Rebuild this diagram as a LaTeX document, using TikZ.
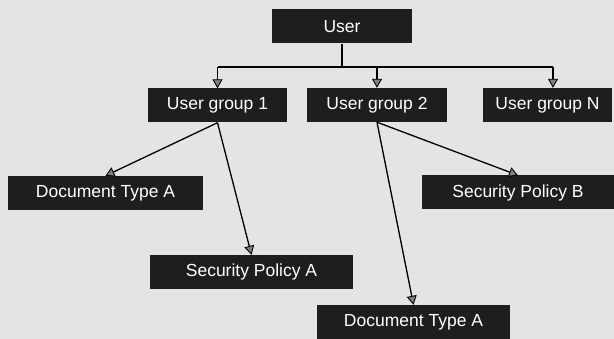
\documentclass[tikz,border=0pt]{standalone}
\usepackage{fontspec}
\setmainfont{Liberation Sans}
\usetikzlibrary{arrows.meta,calc}
\definecolor{bgc}{HTML}{E4E4E4}
\definecolor{boxc}{HTML}{1E1E1E}
\begin{document}
\begin{tikzpicture}[x=1pt,y=-1pt,
  box/.style={fill=boxc,text=white,inner sep=0pt,minimum height=34pt,
    font=\fontsize{17.5}{20}\selectfont,anchor=center},
  conn/.style={draw=black,line width=1.3pt,
    -{Triangle[length=9pt,width=10pt,fill=gray,line width=0.9pt]}},
  trunk/.style={draw=black,line width=1.8pt}]
\fill[bgc] (0,0) rectangle (614,339);
\useasboundingbox (0,0) rectangle (614,339);
\node[box,minimum width=140pt] (user) at (342,26.5) {User};
\node[box,minimum width=139pt] (ug1) at (217.5,105.5) {User group 1};
\node[box,minimum width=140pt] (ug2) at (377,105) {User group 2};
\node[box,minimum width=129pt] (ugn) at (547.5,105) {User group N};
\node[box,minimum width=195pt] (doca) at (105.5,193) {Document Type A};
\node[box,minimum width=203pt] (spa) at (251.5,272) {Security Policy A};
\node[box,minimum width=192pt] (spb) at (518,192.5) {Security Policy B};
\node[box,minimum width=193pt] (docb) at (413.5,322) {Document Type A};
\coordinate (j) at ($(user.south)+(0,23)$);
\coordinate (nt) at ([xshift=5.5pt]ugn.north);
\draw[trunk] (user.south) -- (j);
\draw[trunk] (ug1.north |- j) -- (nt |- j);
\draw[conn] (ug1.north |- j) -- (ug1.north);
\draw[conn] (ug2.north |- j) -- (ug2.north);
\draw[conn] (nt |- j) -- (nt);
\draw[conn] (ug1.south) -- (doca.north);
\draw[conn] (ug1.south) -- (spa.north);
\draw[conn] (ug2.south) -- (spb.north);
\draw[conn] (ug2.south) -- (docb.north);
\end{tikzpicture}
\end{document}
